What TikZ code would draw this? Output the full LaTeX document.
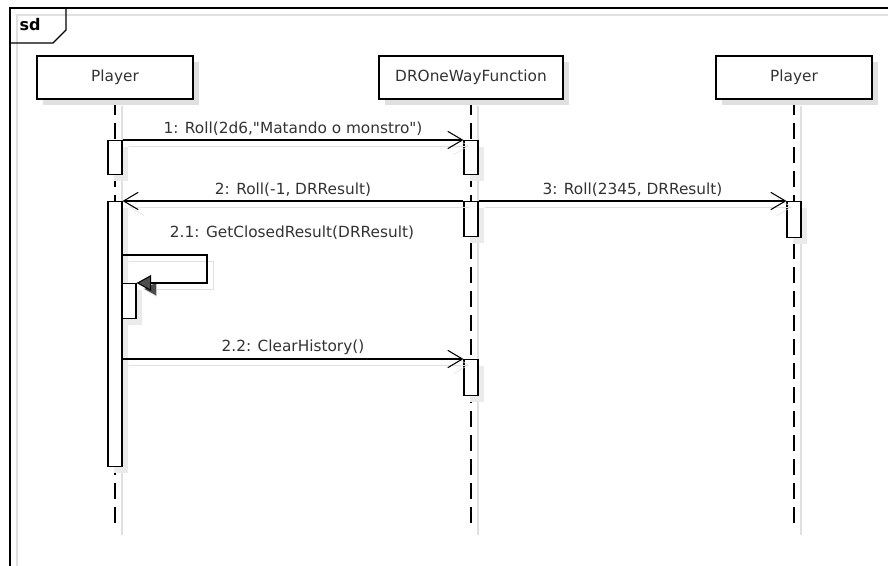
\documentclass[tikz,border=0pt]{standalone}
\usepackage{fontspec}
\setmainfont{DejaVu Sans}[Ligatures=TeXOff]
\usetikzlibrary{positioning,arrows.meta,shadows}

\tikzset{
  ghost/.style={preaction={draw=black!12, solid, transform canvas={shift={(4.5pt,-4.5pt)}}}},
  head/.style={draw, line width=2pt, fill=white, minimum height=32.25pt, inner sep=0pt,
    font=\fontsize{11.5}{14}\selectfont, text=black!80,
    drop shadow={shadow xshift=4.5pt, shadow yshift=-4.5pt, fill=black!12, opacity=1}},
  act/.style={draw, line width=0.8pt, fill=white, minimum width=10.5pt, inner sep=0pt, anchor=north,
    drop shadow={shadow xshift=4.5pt, shadow yshift=-4.5pt, fill=black!8, opacity=1}},
  life/.style={line width=1pt, dash pattern=on 12pt off 6pt},
  msg/.style={line width=0.8pt, ghost, -{Straight Barb[length=11pt, width=13pt, line width=0.8pt]}},
  self/.style={line width=0.8pt, ghost, -{Triangle[length=11pt, width=12pt, fill=black!70]}},
  lbl/.style={font=\fontsize{11.5}{14}\selectfont, text=black!80, above, inner sep=3pt}
}

\begin{document}
\begin{tikzpicture}[x=0.75pt, y=-0.75pt]
\useasboundingbox (0,0) rectangle (888,566);

% frame
\draw[black!12, line width=1pt] (17,566) -- (17,15) -- (888,15);
\draw[line width=1.2pt] (10,566) -- (10,8) -- (888,8);
\draw[line width=1pt] (10,43) -- (53,43) -- (66,30) -- (66,8);
\node[font=\bfseries\fontsize{12}{14}\selectfont] (sd) at (30,25) {sd};

% lifeline shadows
\foreach \x in {115,471,794}
  \draw[black!12, line width=1pt] (\x+7,106) -- (\x+7,535);

% lifelines
\foreach \x in {115,471,794}
  \draw[life] (\x,99) -- (\x,528);

% heads
\node[head, minimum width=117pt] (p1) at (115,77.5) {Player};
\node[head, minimum width=138pt] (dr) at (471,77.5) {DROneWayFunction};
\node[head, minimum width=117pt] (p2) at (794,77.5) {Player};

% activations
\node[act, minimum height=25.5pt] (p1a) at (115,140) {};
\node[act, minimum height=25.5pt] (dra) at (471,140) {};
\node[act, minimum height=198.75pt] (p1b) at (115,201) {};
\node[act, minimum height=26.25pt] (drb) at (471,201) {};
\node[act, minimum height=27pt] (p2a) at (794,201) {};
\node[act, minimum height=26.25pt] (p1c) at (129,283) {};
\node[act, minimum height=27pt] (drc) at (471,359) {};

% messages
\draw[msg] (p1a.north east) -- (dra.north west)
  node[lbl, midway] {1: Roll(2d6,"Matando o monstro")};
\draw[msg] (drb.north west) -- (p1b.north east)
  node[lbl, midway] {2: Roll(-1, DRResult)};
\draw[msg] (drb.north east) -- (p2a.north west)
  node[lbl, midway] {3: Roll(2345, DRResult)};

\coordinate (loop) at (207,255);
\draw[self] (p1b.east |- loop) -- (loop) |- (p1c.north east);
\node[lbl] (l21) at (292,244) {2.1: GetClosedResult(DRResult)};

\draw[msg] (p1b.east |- drc.north) -- (drc.north west)
  node[lbl, midway] {2.2: ClearHistory()};

\end{tikzpicture}
\end{document}
